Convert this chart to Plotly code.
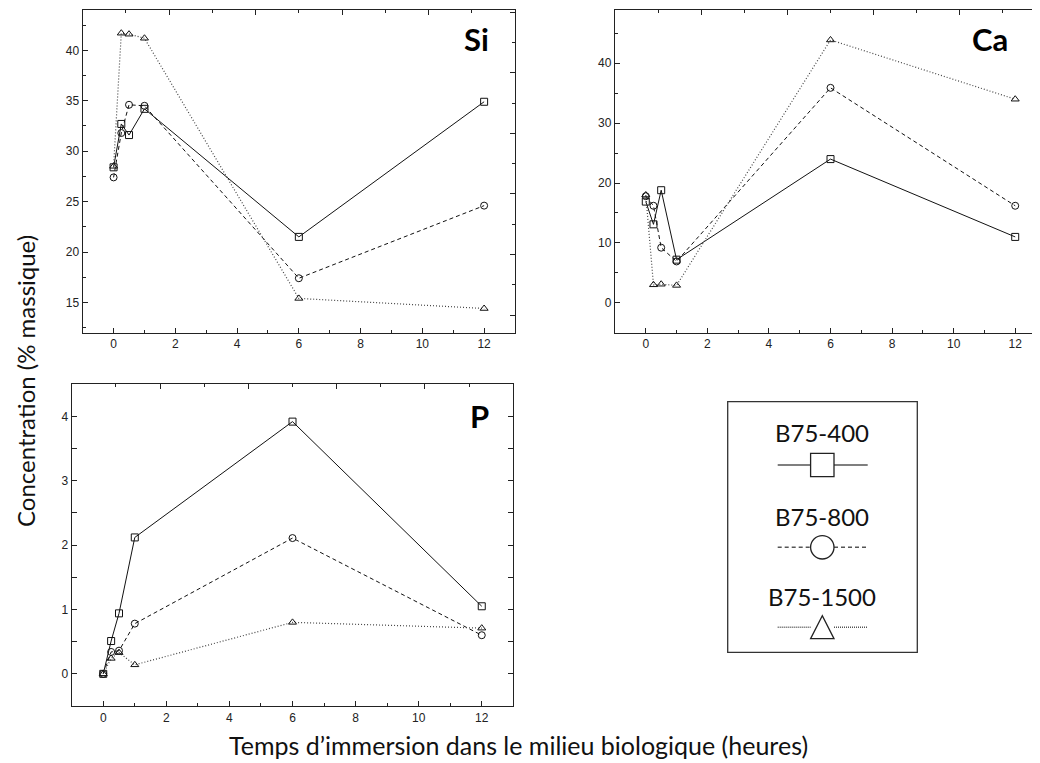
import plotly.graph_objects as go

# ---------------- data ----------------
times = [0, 0.25, 0.5, 1, 6, 12]
series_names = ["B75-400", "B75-800", "B75-1500"]

si_400 = [28.4, 32.7, 31.6, 34.2, 21.5, 34.9]
si_800 = [27.4, 31.8, 34.6, 34.5, 17.4, 24.6]
si_1500 = [28.5, 41.7, 41.6, 41.2, 15.4, 14.4]

ca_400 = [16.9, 13.1, 18.8, 7.2, 24.0, 11.0]
ca_800 = [17.8, 16.2, 9.2, 6.9, 35.9, 16.2]
ca_1500 = [18.0, 3.0, 3.1, 2.9, 43.9, 34.0]

p_400 = [0.0, 0.51, 0.94, 2.12, 3.92, 1.05]
p_800 = [0.0, 0.34, 0.36, 0.78, 2.11, 0.60]
p_1500 = [0.0, 0.24, 0.33, 0.14, 0.80, 0.71]

panel_titles = ["Si", "Ca", "P"]
y_title = "Concentration (% massique)"
x_title = "Temps d\u2019immersion dans le milieu biologique (heures)"

# ---------------- style ----------------
W, H = 1040, 763
OFF = 8  # page body margin offset
def PX(x):
    return (x - OFF) / W
def PY(y):
    return 1 - (y - OFF) / H

styles = [
    dict(dash="solid", symbol="square-open", color="#111111", lw=1.0),
    dict(dash="4px,3px", symbol="circle-open", color="#111111", lw=1.0),
    dict(dash="1px,2px", symbol="triangle-up-open", color="#444444", lw=1.2),
]

fig = go.Figure()

panels = [
    ("x", "y", [si_400, si_800, si_1500]),
    ("x2", "y2", [ca_400, ca_800, ca_1500]),
    ("x3", "y3", [p_400, p_800, p_1500]),
]
for xa, ya, data in panels:
    for name, vals, st in zip(series_names, data, styles):
        fig.add_trace(go.Scatter(
            x=times, y=vals, name=name, mode="lines+markers",
            xaxis=xa, yaxis=ya, showlegend=False,
            line=dict(color=st["color"], width=st["lw"], dash=st["dash"]),
            marker=dict(symbol=st["symbol"], size=7, color="#111111",
                        line=dict(width=1, color="#111111")),
        ))

# empty traces so overlay (frame tick) axes are drawn
for xa, ya in [("x4", "y"), ("x", "y4"), ("x5", "y2"), ("x6", "y3")]:
    fig.add_trace(go.Scatter(x=[], y=[], xaxis=xa, yaxis=ya, showlegend=False,
                             hoverinfo="skip"))

tickfont = dict(family="Liberation Sans, Arial", size=12, color="#222222")
LC = "#222222"
LW = 1.3

def main_x(domain, rng, anchor):
    return dict(domain=domain, range=rng, anchor=anchor, showline=True, linecolor=LC, linewidth=LW,
                ticks="inside", ticklen=5, tickwidth=1.2, tickcolor=LC,
                tickmode="linear", tick0=0, dtick=2,
                minor=dict(ticks="inside", ticklen=3, tickwidth=1.2, tickcolor=LC, dtick=1),
                showgrid=False, zeroline=False, tickfont=tickfont, mirror=False)

def main_y(domain, rng, dtick, mdtick, anchor, mirror=False):
    return dict(domain=domain, range=rng, anchor=anchor, showline=True, linecolor=LC, linewidth=LW,
                ticks="inside", ticklen=5, tickwidth=1.2, tickcolor=LC,
                tickmode="linear", tick0=0, dtick=dtick,
                minor=dict(ticks="inside", ticklen=3, tickwidth=1.2, tickcolor=LC, dtick=mdtick),
                showgrid=False, zeroline=False, tickfont=tickfont,
                mirror="allticks" if mirror else False)

def overlay(over, anchor, side, rng):
    return dict(overlaying=over, anchor=anchor, side=side, range=rng,
                showline=True, linecolor=LC, linewidth=LW,
                ticks="inside", ticklen=5, tickwidth=1.2, tickcolor=LC,
                tickmode="linear", tick0=0, dtick=2, showticklabels=False,
                minor=dict(ticks="inside", ticklen=3, tickwidth=1.2, tickcolor=LC, dtick=1),
                showgrid=False, zeroline=False)

si_xd = [PX(82.7), PX(515)]
si_yd = [PY(332.7), PY(10)]
ca_xd = [PX(615), PX(1046)]
ca_yd = [PY(332.7), PY(10)]
p_xd = [PX(71.7), PX(513.3)]
p_yd = [PY(706), PY(384.3)]

fig.update_layout(
    width=W, height=H,
    margin=dict(l=0, r=0, t=0, b=0),
    paper_bgcolor="white", plot_bgcolor="white",
    showlegend=False,
    xaxis=main_x(si_xd, [-1, 13], "y"),
    yaxis=main_y(si_yd, [12, 44], 5, 2.5, "x"),
    xaxis2=main_x(ca_xd, [-1, 13], "y2"),
    yaxis2=main_y(ca_yd, [-5, 48.9], 10, 5, "x2"),
    xaxis3=main_x(p_xd, [-1, 13], "y3"),
    yaxis3=main_y(p_yd, [-0.5, 4.5], 1, 0.5, "x3", mirror=True),
    xaxis4=overlay("x", "y", "top", [0, 10]),
    yaxis4=overlay("y", "x", "right", [-0.58, 10.07]),
    xaxis5=overlay("x2", "y2", "top", [0, 10]),
    xaxis6=overlay("x3", "y3", "top", [0, 10]),
)

ann = []
title_font = dict(family="Lato, Noto Sans", size=31, color="#000000")
for t, (x, y) in zip(panel_titles, [(476, 39), (990, 39), (479, 416)]):
    ann.append(dict(text="<b>%s</b>" % t, x=PX(x), y=PY(y), xref="paper", yref="paper",
                    showarrow=False, font=title_font, xanchor="center", yanchor="middle"))

ann.append(dict(text=y_title, x=PX(25), y=PY(381), xref="paper", yref="paper",
                showarrow=False, textangle=-90,
                font=dict(family="Lato, Noto Sans", size=24, color="#111111"),
                xanchor="center", yanchor="middle"))
ann.append(dict(text=x_title, x=PX(518), y=PY(745), xref="paper", yref="paper",
                showarrow=False,
                font=dict(family="Lato, Noto Sans", size=25, color="#111111"),
                xanchor="center", yanchor="middle"))

# ---------------- legend (custom box) ----------------
shapes = []
shapes.append(dict(type="rect", xref="paper", yref="paper",
                   x0=PX(727.7), x1=PX(917.3), y0=PY(652.3), y1=PY(401.7),
                   line=dict(color="#333333", width=1.3), fillcolor="rgba(0,0,0,0)"))
leg_font = dict(family="Lato, Noto Sans", size=24, color="#111111")
leg_text_y = [432, 516, 596]
leg_sym_y = [465, 547.3, 627.3]
leg_dash = ["solid", "4px,3px", "1px,1px"]
cx = 822.3
half = 11.7
for name, ty, sy, dsh in zip(series_names, leg_text_y, leg_sym_y, leg_dash):
    ann.append(dict(text=name, x=PX(cx), y=PY(ty), xref="paper", yref="paper",
                    showarrow=False, font=leg_font, xanchor="center", yanchor="middle"))
    for a, b in [(777.7, cx - half), (cx + half, 867.7)]:
        shapes.append(dict(type="line", xref="paper", yref="paper",
                           x0=PX(a), x1=PX(b), y0=PY(sy), y1=PY(sy),
                           line=dict(color="#555555", width=1.5, dash=dsh)))
# square
shapes.append(dict(type="rect", xref="paper", yref="paper",
                   x0=PX(cx - half), x1=PX(cx + half), y0=PY(leg_sym_y[0] + half),
                   y1=PY(leg_sym_y[0] - half), line=dict(color="#222222", width=1.3)))
# circle
shapes.append(dict(type="circle", xref="paper", yref="paper",
                   x0=PX(cx - half), x1=PX(cx + half), y0=PY(leg_sym_y[1] + half),
                   y1=PY(leg_sym_y[1] - half), line=dict(color="#222222", width=1.3)))
# triangle
ty0 = 615.7
ty1 = 638.7
path = "M %f,%f L %f,%f L %f,%f Z" % (PX(cx), PY(ty0), PX(cx - half), PY(ty1),
                                      PX(cx + half), PY(ty1))
shapes.append(dict(type="path", xref="paper", yref="paper", path=path,
                   line=dict(color="#222222", width=1.3)))

fig.update_layout(annotations=ann, shapes=shapes)
fig.write_html("out.html")
